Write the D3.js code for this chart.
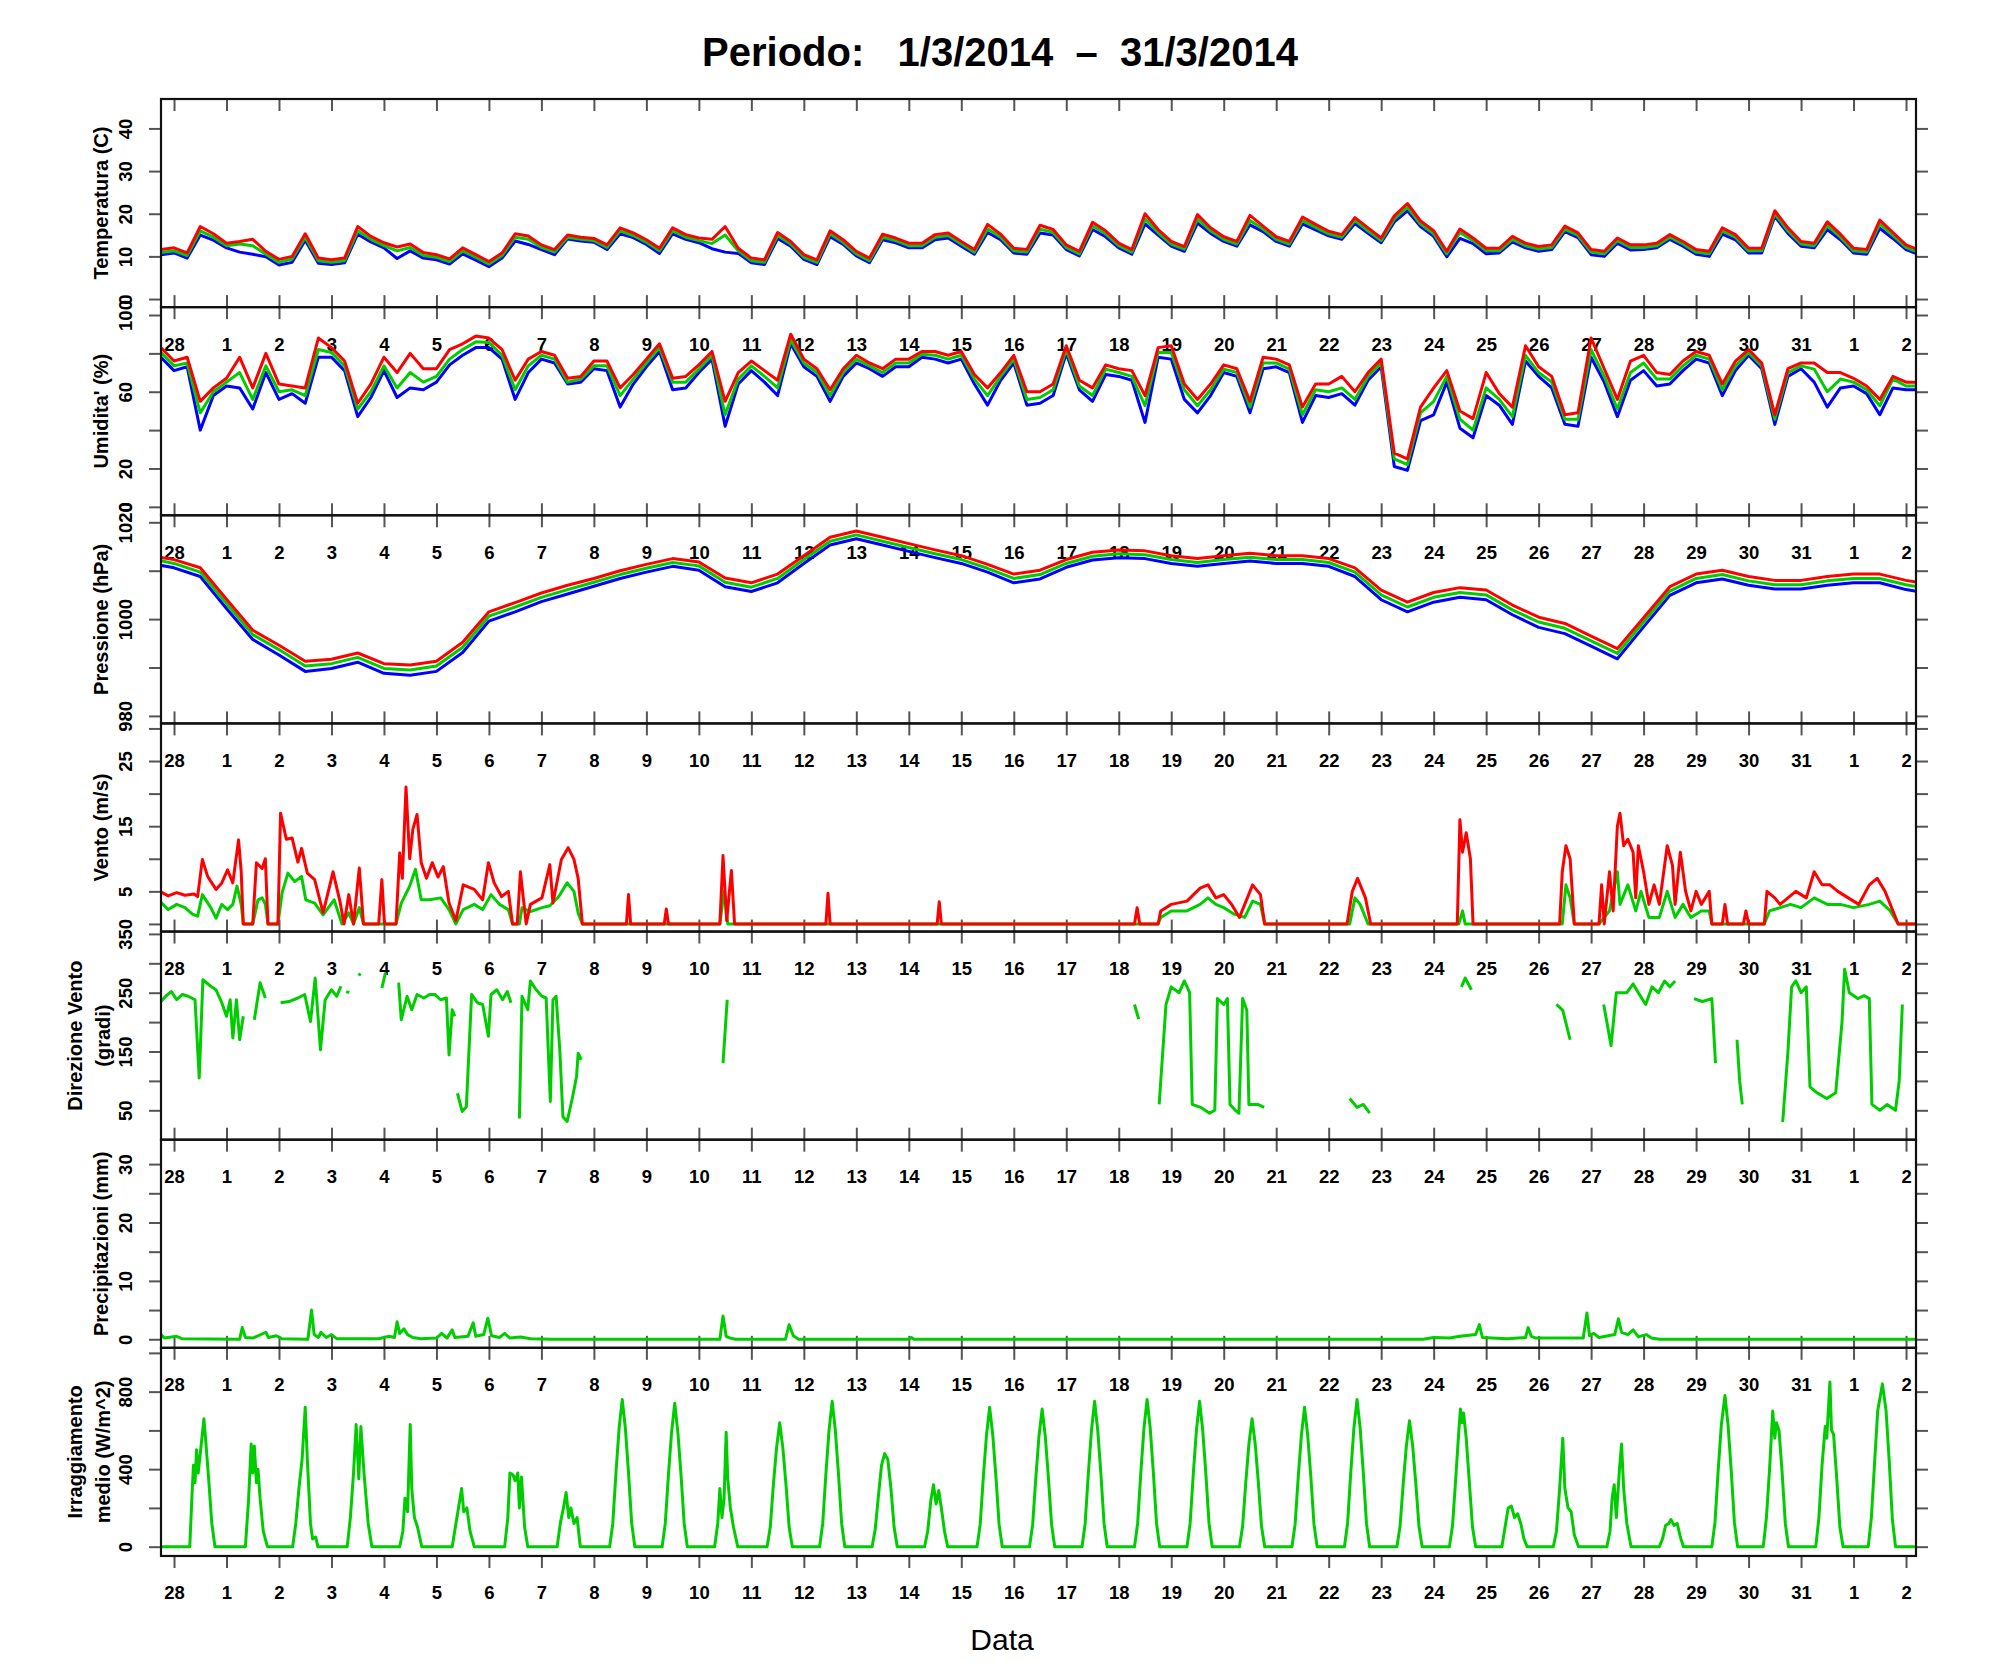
<!DOCTYPE html>
<html>
<head>
<meta charset="utf-8">
<script src="https://cdn.jsdelivr.net/npm/d3@7"></script>
<style>
  body { margin: 0; background: #fff; }
  svg { display: block; }
  text { font-family: "Liberation Sans", Arial, Helvetica, sans-serif; }
</style>
</head>
<body>
<svg id="chart"></svg>
<script>
// ---- data (time in days from 28/2/2014 00:00) ----
const dayLabels = ["28","1","2","3","4","5","6","7","8","9","10","11","12","13","14","15","16",
  "17","18","19","20","21","22","23","24","25","26","27","28","29","30","31","1","2"];

// temperature, 6h step starting at -0.25
const tempT0 = -0.25, tempStep = 0.25;
const tempMean = [10.9,11.3,10.2,16,14.5,12.5,12.9,12.5,10.5,8.6,9.4,14.5,9,8.6,9,16,14,12.5,11.3,12.1,
  10.2,9.8,8.8,11.3,9.8,8.2,10.2,14.5,14,12.1,11,14.5,14,13.7,12.1,16,14.9,13.3,11.3,16,
  14.5,13.7,13,15,11.3,9,8.6,14.9,12.9,9.8,8.6,15.3,13.3,10.6,9,14.5,13.7,12.5,12.5,14.5,
  14.9,12.9,11,16.5,14.5,11.3,11,16.4,15.6,12.1,10.6,17.2,15.3,12.5,11,18.8,15.6,12.9,11.7,18.8,
  16,14,12.9,18.4,16.4,14,12.9,18.4,16.8,15.3,14.5,18.4,16,13.7,18.8,21.5,17.6,15.3,10.6,15.6,
  13.7,11.3,11.3,14,12.5,11.7,12.1,16.4,14.9,11,10.6,13.7,12.1,12.1,12.5,14.5,12.9,11,10.6,16,
  14.5,11.3,11.3,20,16,12.9,12.5,17.2,14.5,11.3,11,17.6,14.9,12.1,10.9];
const tempMax = [11.6,12,10.8,17,15.3,13.1,13.5,14,11.2,9.3,10,15.3,9.6,9.2,9.6,17,14.7,13.2,12.2,12.9,
  10.9,10.4,9.4,12,10.4,8.8,10.8,15.3,14.8,12.7,11.6,15,14.5,14.2,12.7,16.7,15.5,13.9,11.9,16.7,
  15.1,14.3,14,17,11.9,9.6,9.2,15.6,13.5,10.4,9.2,16,13.9,11.2,9.6,15.2,14.3,13.1,13.1,15.1,
  15.5,13.5,11.6,17.5,15.2,11.9,11.6,17.3,16.3,12.7,11.2,18,16,13.1,11.6,20,16.3,13.5,12.3,19.8,
  16.7,14.6,13.5,19.6,17.1,14.6,13.5,19.2,17.5,15.9,15.1,19.1,16.7,14.3,19.5,22.4,18.3,16,11.2,16.4,
  14.3,11.9,11.9,14.7,13.1,12.3,12.7,17.1,15.5,11.6,11.2,14.3,12.7,12.7,13.1,15.1,13.5,11.6,11.2,16.7,
  15.1,11.9,11.9,20.7,16.7,13.5,13.1,18.1,15.2,11.9,11.6,18.5,15.6,12.7,11.5];
const tempMin = [10.4,10.8,9.6,15,13.8,12,11,10.5,9.9,8,8.6,13.8,8.4,8.1,8.5,15.2,13.4,12,9.5,11.3,
  9.6,9.2,8.2,10.6,9.1,7.6,9.6,13.6,12.8,11.6,10.4,14.1,13.6,13.3,11.6,15.3,14.4,12.8,10.7,15.3,
  14,13.2,11.8,11,10.7,8.5,8.1,14.2,12.4,9.3,8.1,14.6,12.8,10.1,8.5,13.9,13.2,12,12,13.9,
  14.3,12.4,10.5,15.6,13.9,10.8,10.5,15.5,15,11.6,10.1,16.3,14.6,12,10.5,17.6,15,12.4,11.2,17.8,
  15.4,13.5,12.4,17.4,15.8,13.5,12.4,17.6,16.2,14.8,14,17.7,15.4,13.2,18.1,20.7,17,14.7,9.9,14.2,
  13,10.6,10.8,13.4,12,11.2,11.6,15.8,14.4,10.4,10,13.1,11.5,11.6,12,14,12.4,10.5,10,15.2,
  13.9,10.8,10.8,19.4,15.4,12.4,12,16.3,13.9,10.8,10.5,16.6,14.2,11.6,10.4];

// humidity, 6h step starting at -0.25
const humT0 = -0.25, humStep = 0.25;
const humMean = [80.5,73.5,75,49,60,65,70,56,73.5,60,61,58,82,80.5,73.5,51,60,73.5,62,70,
  65,68,77,82,86,85.7,79,61,73.5,79,77,65,66.6,73.5,73.5,58,66.6,75,83,65,
  65,71.8,79,48,66.6,73.5,68,62,87,75,70,58,70,77,73.5,70,75,75,79.6,79,
  77,79,66.6,58,68,77,56,57,61,82,63,58,71.8,70,68,52.7,80.5,80.5,61,52.7,
  61,71.8,70,52,75,75,71.8,48,61,60,62,56,68,75,25,22,49,55,68,45.7,
  40,62,56,47,79,70,65,45.7,45.7,82,68,51,70,75,66.6,66.6,73.5,79,77,61,
  73.5,80.5,73.5,45.7,70,73.5,71.8,60,66.6,65,61,52.7,66.6,63,63];
const humMax = [83,76,78,55,62,67,78,62,80,64,63,62,88,83,76,54,64,78,70,80,
  72,72,82,85,89,88,82,66,77,81,79,67,68,76,76,62,69,77,85,67,
  68,74,81,55,70,76,71,66,90,77,72,61,72,79,75,72,77,77,81,81,
  79,81,69,62,70,79,60,60,64,84,66,62,74,72,71,58,83,84,64,56,
  64,74,72,55,78,77,74,52,64,64,68,60,70,77,28,25,52,62,71,50,
  46,70,59,52,84,73,68,48,49,88,72,56,76,79,70,69,76,81,79,64,
  76,82,75,48,72,75,75,70,70,67,63,56,68,65,65];
const humMin = [78,71,73,40,58,63,62,51,70,56,59,54,78,78,71,47,57,71,57,62,
  61,65,74,79,83,83,77,56,70,77,75,64,65,72,71,52,64,73,81,61,
  62,70,77,42,64,71,65,58,85,73,68,55,68,75,72,68,73,73,78,77,
  75,77,64,53,66,75,53,54,58,80,61,55,69,68,66,44,78,77,56,49,
  58,70,68,49,72,73,70,44,58,57,59,53,66,73,21,19,45,48,65,41,
  36,58,53,43,76,68,62,43,42,78,65,47,66,71,63,64,71,77,75,58,
  71,79,72,43,68,72,65,52,62,63,59,48,62,61,61];

// pressure, 12h step starting at -0.5
const pressT0 = -0.5, pressStep = 0.5;
const pressMean = [1012.6,1011.5,1009.7,1003.2,996.8,993.7,990.3,990.8,992.1,989.8,989.5,990.3,994.2,1000.6,
  1002.5,1004.5,1006.1,1007.6,1009.2,1010.5,1011.7,1011,1007.6,1006.6,1008.4,1012.3,1016.1,1017.4,
  1016.1,1014.8,1013.5,1012.3,1010.5,1008.4,1009.2,1011.5,1013,1013.5,1013.3,1012.3,1011.7,1012.3,
  1012.8,1012.3,1012.3,1011.7,1009.7,1005,1002.5,1004.5,1005.5,1005,1001.9,999.4,998.1,995.5,
  992.9,999.4,1005.8,1008.4,1009.2,1007.9,1007.1,1007.1,1007.9,1008.4,1008.4,1007.1,1006.2];
const pressMax = [1013.2,1012.3,1010.6,1004.1,997.7,994.6,991.3,991.7,993,990.8,990.5,991.3,995.2,1001.5,
  1003.4,1005.4,1007,1008.4,1010,1011.3,1012.5,1011.8,1008.5,1007.5,1009.3,1013.1,1016.9,1018.2,
  1016.9,1015.6,1014.3,1013.1,1011.3,1009.3,1010.1,1012.3,1013.8,1014.3,1014.1,1013.1,1012.5,1013.1,
  1013.6,1013.1,1013.1,1012.5,1010.6,1006,1003.5,1005.5,1006.5,1006,1002.9,1000.4,999.1,996.5,
  993.9,1000.3,1006.7,1009.3,1010.1,1008.8,1008,1008,1008.8,1009.3,1009.3,1008,1007.1];
const pressMin = [1011.6,1010.6,1008.8,1002.2,995.8,992.6,989.2,989.8,991.1,988.8,988.4,989.2,993.1,999.6,
  1001.5,1003.6,1005.2,1006.8,1008.4,1009.7,1010.9,1010.1,1006.7,1005.7,1007.5,1011.5,1015.3,1016.6,
  1015.3,1014,1012.7,1011.5,1009.7,1007.5,1008.3,1010.7,1012.2,1012.7,1012.5,1011.5,1010.9,1011.5,
  1012,1011.5,1011.5,1010.9,1008.8,1004,1001.5,1003.5,1004.5,1004,1000.9,998.3,997,994.4,
  991.8,998.4,1004.9,1007.5,1008.3,1007,1006.2,1006.2,1007,1007.5,1007.5,1006.1,1005.2];

// wind speed [day, m/s]
const windGust = [[-0.27,5],[-0.11,4.3],[0.05,4.8],[0.21,4.4],[0.38,4.6],[0.45,4.2],[0.54,9.9],[0.64,7.3],
  [0.80,5.3],[0.91,6.3],[1.02,8.3],[1.12,6.3],[1.23,12.9],[1.28,8],[1.32,0],[1.50,0],[1.57,9.4],[1.68,8.5],
  [1.74,10],[1.79,0],[1.98,0],[2.03,17],[2.14,13],[2.25,13.2],[2.36,9.5],[2.43,11.6],[2.54,7.8],[2.68,6.8],
  [2.84,1.7],[3.03,8],[3.16,3.5],[3.24,0],[3.33,4.5],[3.42,0],[3.53,8.6],[3.61,0],[3.90,0],[3.96,6.8],
  [4.01,0],[4.23,0],[4.30,10.9],[4.35,7],[4.42,21],[4.49,10],[4.55,14.5],[4.63,16.8],[4.71,9.4],[4.81,7],
  [4.92,9.4],[5.03,7.2],[5.13,8.8],[5.24,3.2],[5.37,0.5],[5.51,6],[5.72,5.3],[5.88,3.7],[5.99,9.4],
  [6.10,6.3],[6.24,4.2],[6.37,5],[6.45,0],[6.54,0],[6.60,8],[6.71,0],[6.79,3],[7.01,4],[7.16,9.1],
  [7.22,3.2],[7.38,9.9],[7.51,11.7],[7.62,9.9],[7.70,7],[7.78,0],
  [8.62,0],[8.66,4.5],[8.70,0],[9.34,0],[9.38,2.3],[9.42,0],[10.40,0],[10.46,10.5],[10.53,0.5],
  [10.62,8.2],[10.68,0],[12.42,0],[12.46,4.7],[12.50,0],[14.54,0],[14.58,3.4],[14.62,0],
  [18.30,0],[18.35,2.5],[18.40,0],[18.75,0],[18.8,2],[19.0,3],[19.3,3.5],[19.55,5.5],[19.7,6],
  [19.85,4],[20.0,4.5],[20.15,3],[20.3,1],[20.4,3],[20.55,6],[20.7,4.5],[20.78,0],
  [22.35,0],[22.45,5],[22.55,7],[22.7,4],[22.8,0],[24.45,0],[24.5,16],[24.55,11],[24.62,14],[24.7,10],
  [24.75,0],[26.4,0],[26.45,8],[26.52,12],[26.6,10],[26.68,0],[27.15,0],[27.2,6],[27.25,0],[27.35,8],
  [27.42,2],[27.5,15],[27.55,17],[27.62,12],[27.7,13],[27.8,11],[27.85,4],[27.9,12],[28.0,8],[28.1,3],
  [28.2,6],[28.3,3],[28.45,12],[28.55,9],[28.6,3],[28.7,11],[28.8,5],[28.9,2],[29.0,5],[29.1,3],
  [29.25,5],[29.3,0],[29.5,0],[29.55,3],[29.6,0],[29.9,0],[29.95,2],[30.0,0],[30.3,0],[30.35,5],
  [30.5,4],[30.6,3],[30.75,4],[30.9,5],[31.1,4],[31.25,8],[31.4,6],[31.55,6],[31.7,5],[31.9,4],
  [32.1,3],[32.3,6],[32.45,7],[32.6,5],[32.75,2],[32.85,0],[33.3,0]];
const windMean = [[-0.27,3.5],[-0.11,2.2],[0.05,3],[0.21,2.5],[0.35,1.5],[0.45,1.2],[0.54,4.5],[0.70,2.5],
  [0.80,0.9],[0.91,3],[1.02,2.2],[1.12,3],[1.20,5.8],[1.28,3],[1.32,0],[1.50,0],[1.60,3.7],[1.68,4],
  [1.74,3],[1.79,0],[1.98,0],[2.06,4.8],[2.17,7.8],[2.30,6.5],[2.43,7.3],[2.51,3.7],[2.68,3.2],[2.84,1.4],
  [3.05,3.7],[3.20,0],[3.33,1.7],[3.42,0],[3.53,2.5],[3.61,0],[4.23,0],[4.33,3.2],[4.49,5.8],[4.60,8.4],
  [4.71,3.7],[4.87,3.7],[5.08,4],[5.24,2.2],[5.37,0],[5.51,2.2],[5.72,3],[5.88,2.2],[6.04,4.5],[6.20,3],
  [6.37,2.2],[6.45,0],[6.58,0],[6.63,2.5],[6.79,1.9],[7.01,2.5],[7.16,2.8],[7.33,4.2],[7.49,6.3],[7.62,5],
  [7.70,1.7],[7.78,0],[10.40,0],[10.48,5],[10.55,0],[18.75,0],[18.8,1],[19.0,2],[19.3,2],[19.55,3],
  [19.7,4],[19.85,3],[20.0,2.5],[20.2,1.5],[20.4,1],[20.55,3.5],[20.7,3],[20.78,0],[22.4,0],[22.5,4],
  [22.6,3],[22.75,0],[24.48,0],[24.55,2],[24.6,0],[26.45,0],[26.52,6],[26.6,4],[26.68,0],[27.15,0],
  [27.25,1],[27.35,2],[27.5,8],[27.55,3],[27.7,6],[27.85,2],[27.95,5],[28.1,1],[28.3,1],[28.45,5],
  [28.6,1],[28.75,3],[28.9,1],[29.1,2],[29.25,2],[29.3,0],[30.3,0],[30.4,2],[30.6,2.5],[30.8,3],
  [31.0,2.5],[31.25,4],[31.5,3],[31.75,3],[32.0,2.5],[32.3,3],[32.5,3.5],[32.7,2],[32.85,0],[33.3,0]];

// wind direction [day, degrees], null = no reading
const windDir = [[-0.27,233],[-0.16,244],[-0.05,252],[0.05,238],[0.16,247],[0.27,244],[0.40,238],[0.48,105],
  [0.55,272],[0.70,261],[0.80,255],[0.91,233],[1.00,210],[1.07,238],[1.12,173],[1.19,238],[1.25,170],
  [1.32,210],[1.40,null],[1.53,204],[1.64,267],[1.74,241],[1.85,null],
  [2.03,233],[2.19,235],[2.36,241],[2.49,247],[2.60,201],[2.69,275],[2.79,153],[2.88,238],[3.00,255],
  [3.10,244],[3.18,261],[3.22,null],[3.28,252],[3.34,250],[3.40,null],[3.52,279],[3.55,283],[3.60,null],
  [3.96,258],[4.03,284],[4.10,null],
  [4.28,267],[4.33,204],[4.44,244],[4.53,221],[4.63,247],[4.76,241],[4.87,247],[4.97,247],[5.08,238],
  [5.19,241],[5.24,144],[5.30,221],[5.35,210],[5.37,null],
  [5.40,79],[5.49,48],[5.57,56],[5.67,247],[5.78,233],[5.88,230],[5.99,176],[6.04,247],[6.15,255],
  [6.26,238],[6.35,252],[6.42,233],[6.50,null],
  [6.58,36],[6.63,244],[6.74,221],[6.79,270],[6.90,255],[7.01,244],[7.09,241],[7.17,65],[7.22,238],
  [7.28,244],[7.35,153],[7.41,39],[7.49,31],[7.59,71],[7.67,108],[7.70,147],[7.76,136],[7.80,null],
  [10.46,130],[10.54,238],[10.60,null],[18.30,230],[18.38,205],[18.45,null],
  [18.77,60],[18.90,230],[19.00,260],[19.15,250],[19.25,270],[19.35,250],[19.40,60],[19.56,55],[19.73,45],
  [19.83,50],[19.88,240],[20.00,230],[20.07,240],[20.12,60],[20.22,50],[20.29,45],[20.36,240],[20.44,220],
  [20.48,60],[20.65,60],[20.77,55],[20.85,null],
  [22.40,70],[22.54,55],[22.66,60],[22.78,45],[22.85,null],[24.53,260],[24.60,275],[24.72,255],[24.80,null],
  [26.34,230],[26.46,220],[26.60,170],[26.70,null],
  [27.24,230],[27.38,160],[27.48,250],[27.68,250],[27.80,265],[27.90,250],[28.04,230],[28.16,260],
  [28.28,250],[28.40,270],[28.50,260],[28.60,270],[28.70,null],
  [28.96,240],[29.12,235],[29.30,240],[29.37,130],[29.45,null],[29.78,170],[29.83,100],[29.88,60],[29.95,null],
  [30.65,30],[30.75,150],[30.82,260],[30.90,270],[31.00,250],[31.10,260],[31.17,90],[31.30,80],[31.49,70],
  [31.66,80],[31.78,200],[31.83,290],[31.92,250],[32.08,240],[32.20,245],[32.30,240],[32.35,60],[32.50,50],
  [32.64,60],[32.80,50],[32.87,100],[32.93,230]];

// precipitation [day, mm]
const rain = [[-0.25,0.8],[-0.18,0.2],[0.05,0.5],[0.15,0.1],[1.25,0],[1.3,2],[1.36,0.3],[1.5,0.2],[1.75,1.2],
  [1.8,0.3],[1.95,0.6],[2.05,0.1],[2.55,0],[2.62,5],[2.67,0.8],[2.75,0.3],[2.8,1.2],[2.9,0.3],[3.0,0.8],
  [3.1,0.1],[3.9,0.1],[4.1,0.5],[4.2,0.3],[4.25,3],[4.3,1],[4.38,1.8],[4.45,0.8],[4.55,0.3],[4.7,0.1],
  [5.0,0.2],[5.1,1],[5.2,0.2],[5.3,1.6],[5.35,0.3],[5.6,0.5],[5.7,2.8],[5.75,0.5],[5.9,0.8],[5.98,3.6],
  [6.05,0.6],[6.2,0.3],[6.3,1],[6.4,0.2],[6.6,0.4],[6.8,0.1],[7.2,0],[10.4,0],[10.46,4],[10.52,0.5],
  [10.6,0.2],[10.7,0],[11.65,0],[11.72,2.5],[11.8,0.6],[11.9,0],[14.0,0],[14.05,0.3],[14.1,0],[23.8,0],
  [24.0,0.3],[24.3,0.2],[24.5,0.5],[24.8,0.8],[24.87,2.5],[24.93,0.3],[25.4,0.1],[25.75,0.3],[25.8,2],
  [25.86,0.5],[25.95,0.2],[26.85,0.2],[26.92,4.5],[26.97,0.6],[27.05,1],[27.15,0.3],[27.45,0.8],
  [27.52,3.5],[27.58,1.2],[27.7,0.8],[27.8,1.6],[27.9,0.4],[28.05,0.8],[28.15,0.2],[28.3,0],[33.3,0]];

// mean irradiance [day, W/m^2]
const irradiance = [[-0.3,0],[0.30,0],[0.34,250],[0.37,420],[0.40,330],[0.43,500],[0.46,380],[0.50,480],[0.57,660],
  [0.60,560],[0.66,350],[0.72,120],[0.78,0],
  [1.36,0],[1.42,240],[1.47,530],[1.50,380],[1.53,520],[1.57,330],[1.60,400],[1.64,250],[1.70,80],[1.78,0],
  [2.26,0],[2.32,120],[2.38,300],[2.44,450],[2.50,720],[2.54,450],[2.60,120],[2.64,40],[2.70,50],[2.74,0],
  [3.30,0],[3.36,150],[3.42,380],[3.47,630],[3.52,350],[3.56,620],[3.62,380],[3.70,120],[3.77,0],
  [4.30,0],[4.36,80],[4.40,250],[4.45,180],[4.50,630],[4.53,300],[4.58,150],[4.64,100],[4.72,0],
  [5.30,0],[5.36,100],[5.42,200],[5.48,300],[5.52,180],[5.58,200],[5.64,80],[5.72,0],
  [6.30,0],[6.36,150],[6.40,380],[6.46,370],[6.50,340],[6.55,380],[6.58,200],[6.62,360],[6.68,100],[6.74,0],
  [7.30,0],[7.36,120],[7.42,200],[7.47,280],[7.52,150],[7.56,200],[7.62,120],[7.68,150],[7.74,0],
  [8.30,0],[8.36,120],[8.42,380],[8.48,610],[8.54,760],[8.60,610],[8.66,380],[8.72,120],[8.78,0],
  [9.30,0],[9.36,120],[9.42,370],[9.48,590],[9.54,740],[9.60,590],[9.66,370],[9.72,120],[9.78,0],
  [10.30,0],[10.36,120],[10.40,300],[10.44,150],[10.48,250],[10.52,590],[10.55,350],[10.60,200],[10.66,100],[10.74,0],
  [11.30,0],[11.36,100],[11.42,320],[11.48,510],[11.54,640],[11.60,510],[11.66,320],[11.72,100],[11.78,0],
  [12.30,0],[12.36,120],[12.42,375],[12.48,600],[12.54,750],[12.60,600],[12.66,375],[12.72,120],[12.78,0],
  [13.30,0],[13.36,90],[13.42,260],[13.48,420],[13.54,480],[13.60,450],[13.66,300],[13.72,100],[13.78,0],
  [14.30,0],[14.36,80],[14.42,240],[14.47,320],[14.52,220],[14.57,290],[14.62,200],[14.68,80],[14.74,0],
  [15.30,0],[15.36,115],[15.42,360],[15.48,575],[15.54,720],[15.60,575],[15.66,360],[15.72,115],[15.78,0],
  [16.30,0],[16.36,115],[16.42,355],[16.48,570],[16.54,710],[16.60,570],[16.66,355],[16.72,115],[16.78,0],
  [17.30,0],[17.36,120],[17.42,375],[17.48,600],[17.54,750],[17.60,600],[17.66,375],[17.72,120],[17.78,0],
  [18.30,0],[18.36,120],[18.42,380],[18.48,610],[18.54,760],[18.60,610],[18.66,380],[18.72,120],[18.78,0],
  [19.30,0],[19.36,120],[19.42,375],[19.48,600],[19.54,750],[19.60,600],[19.66,375],[19.72,120],[19.78,0],
  [20.30,0],[20.36,105],[20.42,330],[20.48,530],[20.54,660],[20.60,530],[20.66,330],[20.72,105],[20.78,0],
  [21.30,0],[21.36,115],[21.42,360],[21.48,575],[21.54,720],[21.60,575],[21.66,360],[21.72,115],[21.78,0],
  [22.30,0],[22.36,120],[22.42,380],[22.48,610],[22.54,760],[22.60,610],[22.66,380],[22.72,120],[22.78,0],
  [23.30,0],[23.36,105],[23.42,325],[23.48,520],[23.54,650],[23.60,520],[23.66,325],[23.72,105],[23.78,0],
  [24.30,0],[24.36,110],[24.42,350],[24.48,600],[24.51,710],[24.54,640],[24.57,690],[24.62,560],[24.68,330],[24.74,100],[24.80,0],
  [25.30,0],[25.36,100],[25.42,200],[25.48,210],[25.54,150],[25.60,170],[25.66,120],[25.72,40],[25.78,0],
  [26.28,0],[26.34,80],[26.40,300],[26.46,560],[26.50,300],[26.56,200],[26.62,180],[26.68,60],[26.76,0],
  [27.30,0],[27.36,80],[27.40,250],[27.44,320],[27.48,150],[27.54,400],[27.58,530],[27.62,300],[27.68,120],[27.76,0],
  [28.30,0],[28.36,40],[28.42,110],[28.48,120],[28.52,140],[28.58,110],[28.64,120],[28.70,50],[28.76,0],
  [29.30,0],[29.36,125],[29.42,390],[29.48,625],[29.55,780],[29.61,625],[29.67,390],[29.73,125],[29.79,0],
  [30.28,0],[30.34,150],[30.40,400],[30.46,700],[30.50,560],[30.53,640],[30.58,600],[30.64,380],[30.70,120],[30.76,0],
  [31.28,0],[31.34,150],[31.40,420],[31.46,620],[31.49,560],[31.55,850],[31.58,600],[31.62,580],[31.68,350],[31.74,100],[31.80,0],
  [32.28,0],[32.34,150],[32.40,430],[32.46,700],[32.55,840],[32.62,700],[32.68,440],[32.74,140],[32.80,0],[33.3,0]];

// ---- layout ----
const W = 1991, H = 1680;
const plotLeft = 161, plotRight = 1916, plotTop = 99, panelH = 208.14;
const RED = "#ff0000", GREEN = "#00cd00", BLUE = "#0000ff", TICK = "#555";

const svg = d3.select("#chart").attr("width", W).attr("height", H);
svg.append("rect").attr("width", W).attr("height", H).attr("fill", "#fff");

const x = d3.scaleLinear().domain([-0.248, 33.19]).range([plotLeft, plotRight]);

function uniform(arr, t0, step) {
  return arr.map((v, i) => [t0 + i * step, v]);
}

const panels = [
  { title: ["Temperatura (C)"], domain: [-1.9, 46.9], ticks: [0, 10, 20, 30, 40], labels: [0, 10, 20, 30, 40],
    series: [[uniform(tempMin, tempT0, tempStep), BLUE], [uniform(tempMean, tempT0, tempStep), GREEN], [uniform(tempMax, tempT0, tempStep), RED]] },
  { title: ["Umidita' (%)"], domain: [-4.4, 104.1], ticks: [0, 20, 40, 60, 80, 100], labels: [0, 20, 60, 100],
    series: [[uniform(humMin, humT0, humStep), BLUE], [uniform(humMean, humT0, humStep), GREEN], [uniform(humMax, humT0, humStep), RED]] },
  { title: ["Pressione (hPa)"], domain: [978.45, 1021.45], ticks: [980, 990, 1000, 1010, 1020], labels: [980, 1000, 1020],
    series: [[uniform(pressMin, pressT0, pressStep), BLUE], [uniform(pressMean, pressT0, pressStep), GREEN], [uniform(pressMax, pressT0, pressStep), RED]] },
  { title: ["Vento (m/s)"], domain: [-1.17, 30.77], ticks: [0, 5, 10, 15, 20, 25, 30], labels: [5, 15, 25],
    series: [[windMean, GREEN], [windGust, RED]] },
  { title: ["Direzione Vento", "(gradi)"], domain: [0, 354], ticks: [50, 100, 150, 200, 250, 300, 350], labels: [50, 150, 250, 350],
    series: [[windDir, GREEN]] },
  { title: ["Precipitazioni (mm)"], domain: [-1.47, 34.18], ticks: [0, 5, 10, 15, 20, 25, 30], labels: [0, 10, 20, 30],
    series: [[rain, GREEN]] },
  { title: ["Irraggiamento", "medio (W/m^2)"], domain: [-48, 1026], ticks: [0, 200, 400, 600, 800, 1000], labels: [0, 400, 800],
    series: [[irradiance, GREEN]] }
];

const axesG = svg.append("g");
const dataG = svg.append("g");
const frameG = svg.append("g");

function styleTicks(g) {
  g.select(".domain").remove();
  g.selectAll(".tick line").attr("stroke", TICK).attr("stroke-width", 2);
}

// top edge ticks (inward, no labels)
axesG.append("g").attr("transform", `translate(0,${plotTop})`)
  .call(d3.axisBottom(x).tickValues(d3.range(34)).tickSize(12).tickFormat(""))
  .call(styleTicks);

panels.forEach((p, i) => {
  const y0 = plotTop + i * panelH, y1 = y0 + panelH;
  const y = d3.scaleLinear().domain(p.domain).range([y1, y0]);

  // left axis with rotated labels
  const gl = axesG.append("g").attr("transform", `translate(${plotLeft},0)`)
    .call(d3.axisLeft(y).tickValues(p.ticks).tickSize(12)
      .tickFormat(v => p.labels.includes(v) ? String(v) : ""))
    .call(styleTicks);
  gl.attr("font-size", 18.5).attr("font-weight", "bold").attr("font-family", null);
  gl.selectAll(".tick text")
    .attr("fill", "#000")
    .attr("transform", "rotate(-90)")
    .attr("x", 0).attr("y", -35).attr("dy", "0.35em")
    .attr("text-anchor", "middle");

  // right axis ticks only
  axesG.append("g").attr("transform", `translate(${plotRight},0)`)
    .call(d3.axisRight(y).tickValues(p.ticks).tickSize(12).tickFormat(""))
    .call(styleTicks);

  // day axis below the panel
  const gb = axesG.append("g").attr("transform", `translate(0,${y1})`)
    .call(d3.axisBottom(x).tickValues(d3.range(34)).tickSize(12).tickFormat(k => dayLabels[k]))
    .call(styleTicks);
  gb.attr("font-size", 18.5).attr("font-weight", "bold").attr("font-family", null);
  gb.selectAll(".tick text").attr("fill", "#000").attr("y", 37).attr("dy", "0.35em");

  if (i < panels.length - 1) {
    axesG.append("g").attr("transform", `translate(0,${y1})`)
      .call(d3.axisTop(x).tickValues(d3.range(34)).tickSize(12).tickFormat(""))
      .call(styleTicks);
  }

  // y title
  const yc = y0 + panelH / 2;
  const tx = p.title.length === 1 ? [101] : [75, 103];
  p.title.forEach((t, k) => {
    axesG.append("text")
      .attr("transform", `translate(${tx[k]},${yc}) rotate(-90)`)
      .attr("text-anchor", "middle").attr("dy", "0.35em")
      .attr("font-size", 20).attr("font-weight", "bold")
      .text(t);
  });

  // data
  const clipId = "clip" + i;
  svg.append("clipPath").attr("id", clipId)
    .append("rect").attr("x", plotLeft).attr("y", y0).attr("width", plotRight - plotLeft).attr("height", panelH);
  const pg = dataG.append("g").attr("clip-path", `url(#${clipId})`);
  const line = d3.line().defined(d => d[1] != null).x(d => x(d[0])).y(d => y(d[1]));
  p.series.forEach(([pts, color]) => {
    pg.append("path").datum(pts)
      .attr("fill", "none").attr("stroke", color).attr("stroke-width", 3)
      .attr("stroke-linejoin", "round").attr("d", line);
  });

  frameG.append("rect")
    .attr("x", plotLeft).attr("y", y0).attr("width", plotRight - plotLeft).attr("height", panelH)
    .attr("fill", "none").attr("stroke", "#111").attr("stroke-width", 2.2);
});

// titles
svg.append("text").attr("x", 1000).attr("y", 66).attr("text-anchor", "middle")
  .attr("font-size", 40).attr("font-weight", "bold").style("white-space", "pre")
  .text("Periodo:   1/3/2014  \u2013  31/3/2014");

svg.append("text").attr("x", 1002).attr("y", 1650).attr("text-anchor", "middle")
  .attr("font-size", 30).text("Data");
</script>
</body>
</html>
